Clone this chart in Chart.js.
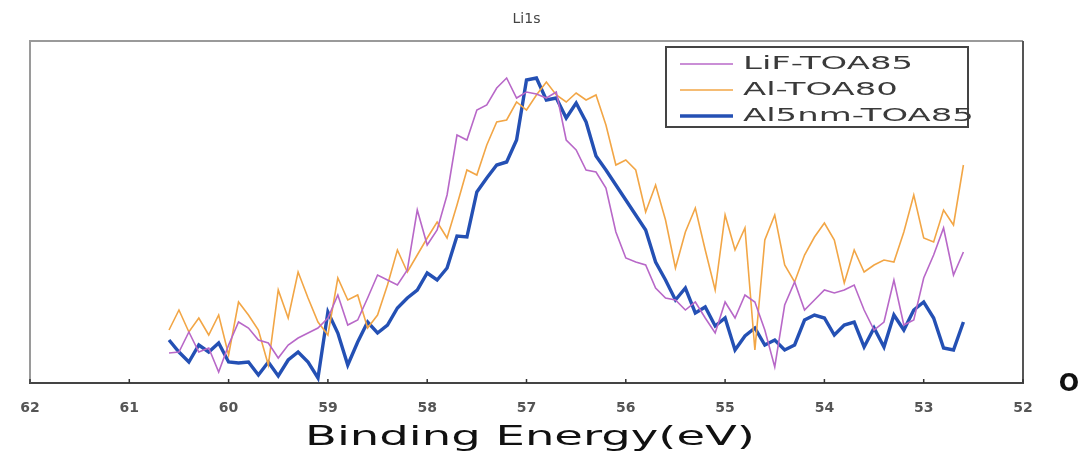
<!DOCTYPE html>
<html>
<head>
<meta charset="utf-8">
<script src="https://cdn.jsdelivr.net/npm/chart.js@4.4.0/dist/chart.umd.min.js"></script>
<style>
  html, body { margin: 0; padding: 0; background: #fff; }
  #wrap { width: 1088px; height: 457px; }
</style>
</head>
<body>
<div id="wrap"><canvas id="xps"></canvas></div>
<script>
// binding energy (eV), one point every 0.1 eV
var energy = [60.6, 60.5, 60.4, 60.3, 60.2, 60.1, 60.0, 59.9, 59.8, 59.7,
    59.6, 59.5, 59.4, 59.3, 59.2, 59.1, 59.0, 58.9, 58.8, 58.7,
    58.6, 58.5, 58.4, 58.3, 58.2, 58.1, 58.0, 57.9, 57.8, 57.7,
    57.6, 57.5, 57.4, 57.3, 57.2, 57.1, 57.0, 56.9, 56.8, 56.7,
    56.6, 56.5, 56.4, 56.3, 56.2, 56.1, 56.0, 55.9, 55.8, 55.7,
    55.6, 55.5, 55.4, 55.3, 55.2, 55.1, 55.0, 54.9, 54.8, 54.7,
    54.6, 54.5, 54.4, 54.3, 54.2, 54.1, 54.0, 53.9, 53.8, 53.7,
    53.6, 53.5, 53.4, 53.3, 53.2, 53.1, 53.0, 52.9, 52.8, 52.7,
    52.6];

// intensities (arb. units)
var lifToa85 = [30, 31, 51, 31, 35, 11, 38, 61, 55, 43,
    40, 25, 38, 45, 50, 55, 65, 88, 58, 63,
    85, 108, 103, 98, 113, 173, 138, 153, 188, 248,
    243, 273, 278, 295, 305, 285, 291, 289, 285, 291,
    243, 233, 213, 211, 195, 151, 125, 121, 118, 95,
    85, 83, 73, 81, 65, 50, 81, 65, 88, 81,
    53, 16, 78, 101, 73, 83, 93, 90, 93, 98,
    73, 53, 61, 103, 58, 63, 105, 128, 155, 108,
    131];

var alToa80 = [53, 73, 51, 65, 48, 68, 28, 81, 68, 53,
    18, 93, 65, 111, 85, 61, 48, 105, 83, 88,
    55, 68, 98, 133, 111, 128, 145, 161, 145, 178,
    213, 208, 238, 261, 263, 281, 273, 288, 301, 288,
    281, 290, 283, 288, 258, 218, 223, 213, 171, 198,
    163, 115, 151, 175, 133, 93, 168, 133, 155, 33,
    143, 168, 118, 101, 128, 146, 160, 143, 100, 133,
    111, 118, 123, 121, 151, 188, 145, 141, 173, 158,
    218];

var al5nmToa85 = [43, 31, 21, 38, 31, 40, 21, 20, 21, 8,
    21, 7, 23, 31, 21, 5, 71, 50, 18, 41,
    61, 50, 58, 75, 85, 93, 110, 103, 115, 147,
    146, 191, 205, 218, 221, 243, 303, 305, 283, 285,
    265, 280, 261, 227, 213, 198, 183, 168, 153, 121,
    103, 83, 95, 70, 76, 57, 65, 33, 47, 55,
    38, 43, 33, 38, 63, 68, 65, 48, 58, 61,
    36, 55, 36, 68, 53, 73, 81, 65, 35, 33,
    61];

var seriesNames = ["LiF-TOA85", "Al-TOA80", "Al5nm-TOA85"];
var xTicks = [62, 61, 60, 59, 58, 57, 56, 55, 54, 53, 52];

function toPoints(vals) {
    return vals.map(function(v, i) {
        return { x: energy[i], y: v };
    });
}

// frame, inner ticks, legend box, axis title
var framePlugin = {
    id: 'frame',
    afterDraw: function(chart) {
        var ctx = chart.ctx;
        var a = chart.chartArea;
        var xs = chart.scales.x;
        ctx.save();

        // left + top border
        ctx.strokeStyle = '#9a9a9a';
        ctx.lineWidth = 2;
        ctx.beginPath();
        ctx.moveTo(a.left, a.bottom);
        ctx.lineTo(a.left, a.top);
        ctx.lineTo(a.right, a.top);
        ctx.stroke();
        // right border
        ctx.strokeStyle = '#555';
        ctx.beginPath();
        ctx.moveTo(a.right, a.top);
        ctx.lineTo(a.right, a.bottom);
        ctx.stroke();

        // small inside ticks
        ctx.strokeStyle = '#333';
        ctx.lineWidth = 1.5;
        xTicks.forEach(function(t) {
            var px = xs.getPixelForValue(t);
            ctx.beginPath();
            ctx.moveTo(px, a.bottom);
            ctx.lineTo(px, a.bottom - 4);
            ctx.stroke();
        });

        // legend
        var lx = 666, ly = 47, lw = 302, lh = 80;
        ctx.fillStyle = '#fff';
        ctx.fillRect(lx, ly, lw, lh);
        ctx.strokeStyle = '#444';
        ctx.lineWidth = 2;
        ctx.strokeRect(lx, ly, lw, lh);
        ctx.font = '17px "DejaVu Sans"';
        var sx = 170 / ctx.measureText(seriesNames[0]).width;
        chart.data.datasets.forEach(function(ds, i) {
            var ry = 64 + i * 26;
            ctx.strokeStyle = ds.borderColor;
            ctx.lineWidth = ds.borderWidth;
            ctx.beginPath();
            ctx.moveTo(680, ry);
            ctx.lineTo(733, ry);
            ctx.stroke();
            ctx.save();
            ctx.translate(743, ry);
            ctx.scale(sx, 1);
            ctx.fillStyle = '#3a3a3a';
            ctx.textBaseline = 'middle';
            ctx.textAlign = 'left';
            ctx.fillText(ds.label, 0, 1);
            ctx.restore();
        });

        // x axis title
        ctx.font = '26px "DejaVu Sans"';
        var title = 'Binding Energy(eV)';
        var tw = ctx.measureText(title).width;
        var tsx = 450 / tw;
        ctx.save();
        ctx.translate(530, 438);
        ctx.scale(tsx, 1);
        ctx.fillStyle = '#111';
        ctx.textAlign = 'center';
        ctx.textBaseline = 'middle';
        ctx.fillText(title, 0, 0);
        ctx.restore();

        // stray mark at right of axis
        ctx.font = 'bold 24px "DejaVu Sans"';
        ctx.fillStyle = '#111';
        ctx.textAlign = 'center';
        ctx.textBaseline = 'middle';
        ctx.fillText('O', 1069, 385);

        ctx.restore();
    }
};

var ctx = document.getElementById('xps').getContext('2d');
var xpsChart = new Chart(ctx, {
    type: 'line',
    data: {
        datasets: [{
            label: seriesNames[0],
            data: toPoints(lifToa85),
            borderColor: '#b868c8',
            borderWidth: 1.6,
            pointRadius: 0,
            tension: 0
        }, {
            label: seriesNames[1],
            data: toPoints(alToa80),
            borderColor: '#f2a646',
            borderWidth: 1.6,
            pointRadius: 0,
            tension: 0
        }, {
            label: seriesNames[2],
            data: toPoints(al5nmToa85),
            borderColor: '#2450b4',
            borderWidth: 3.4,
            pointRadius: 0,
            tension: 0
        }]
    },
    options: {
        responsive: true,
        maintainAspectRatio: false,
        animation: false,
        layout: {
            padding: { left: 30, right: 65, top: 0, bottom: 0 }
        },
        plugins: {
            legend: { display: false },
            tooltip: { enabled: false },
            title: {
                display: true,
                text: 'Li1s',
                color: '#444',
                font: { family: 'DejaVu Sans', size: 14, weight: 'normal' },
                padding: { top: 11, bottom: 13.2 }
            }
        },
        scales: {
            x: {
                type: 'linear',
                reverse: true,
                min: 52,
                max: 62,
                afterBuildTicks: function(scale) {
                    scale.ticks = xTicks.map(function(v) { return { value: v }; });
                },
                afterFit: function(scale) {
                    scale.height = 74;
                },
                grid: { display: false, drawTicks: false },
                border: { display: true, color: '#444', width: 2 },
                ticks: {
                    padding: 17,
                    color: '#555',
                    maxRotation: 0,
                    autoSkip: false,
                    font: { family: 'DejaVu Sans', size: 14, weight: 'bold' }
                }
            },
            y: {
                display: false,
                min: 0,
                max: 342
            }
        }
    },
    plugins: [framePlugin]
});
</script>
</body>
</html>
